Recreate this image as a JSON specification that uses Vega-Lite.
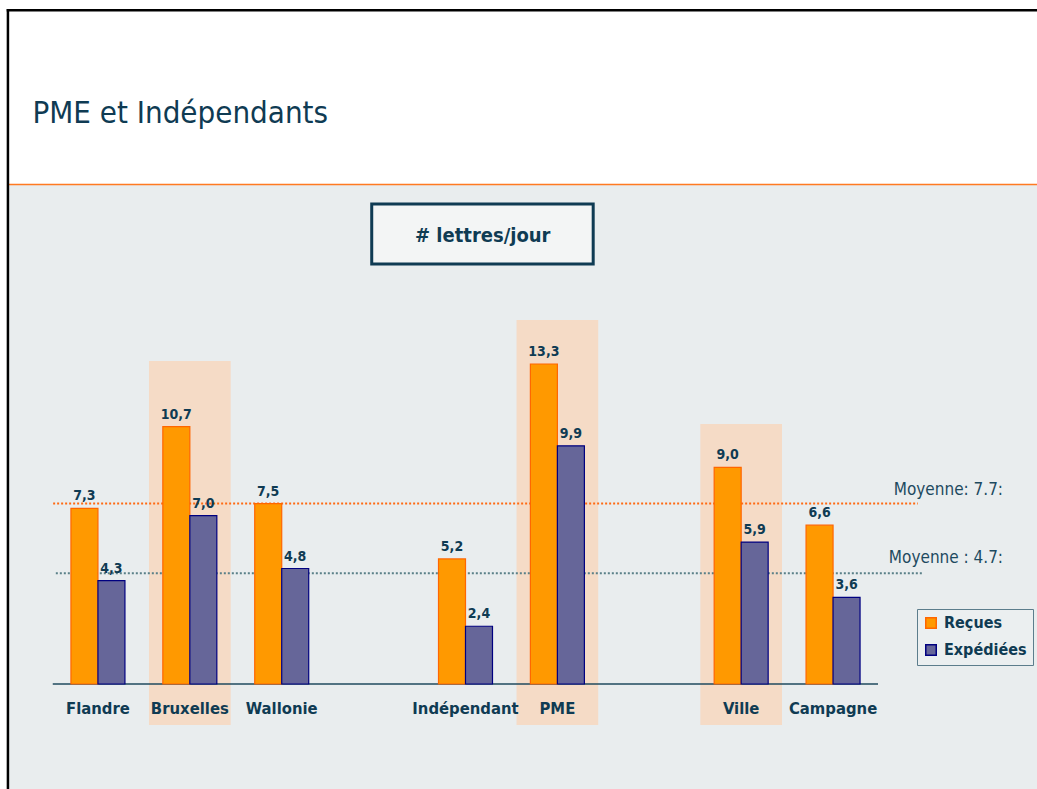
{
  "$schema": "https://vega.github.io/schema/vega-lite/v6.json",
  "width": 827,
  "height": 605,
  "autosize": {"type": "none"},
  "padding": {"left": 52, "top": 184, "right": 158, "bottom": 0},
  "background": "#FFFFFF",
  "config": {
    "view": {"stroke": null},
    "locale": {"number": {"decimal": ",", "thousands": " ", "grouping": [3], "currency": ["", " €"]}}
  },
  "datasets": {
    "lettres": [
      {"cat": "Flandre", "series": "Reçues", "value": 7.3},
      {"cat": "Flandre", "series": "Expédiées", "value": 4.3},
      {"cat": "Bruxelles", "series": "Reçues", "value": 10.7},
      {"cat": "Bruxelles", "series": "Expédiées", "value": 7.0},
      {"cat": "Wallonie", "series": "Reçues", "value": 7.5},
      {"cat": "Wallonie", "series": "Expédiées", "value": 4.8},
      {"cat": "Indépendant", "series": "Reçues", "value": 5.2},
      {"cat": "Indépendant", "series": "Expédiées", "value": 2.4},
      {"cat": "PME", "series": "Reçues", "value": 13.3},
      {"cat": "PME", "series": "Expédiées", "value": 9.9},
      {"cat": "Ville", "series": "Reçues", "value": 9.0},
      {"cat": "Ville", "series": "Expédiées", "value": 5.9},
      {"cat": "Campagne", "series": "Reçues", "value": 6.6},
      {"cat": "Campagne", "series": "Expédiées", "value": 3.6}
    ],
    "highlights": [
      {"cat": "Bruxelles", "top": 13.42, "bottom": -1.7},
      {"cat": "PME", "top": 15.13, "bottom": -1.7},
      {"cat": "Ville", "top": 10.81, "bottom": -1.7}
    ],
    "one": [{}]
  },
  "encoding": {
    "x": {"type": "nominal", "scale": {"domain": ["Flandre", "Bruxelles", "Wallonie", "_gap1", "Indépendant", "PME", "_gap2", "Ville", "Campagne"], "paddingInner": 0.4124, "paddingOuter": 0.2062, "align": 0.5}, "axis": null},
    "y": {"type": "quantitative", "scale": {"domain": [-4.364, 20.78], "nice": false, "zero": false}, "axis": null}
  },
  "layer": [
    {
      "data": {"name": "one"},
      "mark": {"type": "rect", "color": "#E9EDEE"},
      "encoding": {
        "x": {"datum": "Flandre", "bandPosition": -1.148},
        "x2": {"datum": "Campagne", "bandPosition": 4.3},
        "y": {"datum": 20.78},
        "y2": {"datum": -4.364}
      }
    },
    {
      "data": {"name": "one"},
      "mark": {"type": "rule", "color": "#FF7A21", "strokeWidth": 1.5},
      "encoding": {
        "x": {"datum": "Flandre", "bandPosition": -1.148},
        "x2": {"datum": "Campagne", "bandPosition": 4.3},
        "y": {"datum": 20.76}
      }
    },
    {
      "data": {"name": "one"},
      "mark": {"type": "rule", "color": "#000000", "strokeWidth": 2.5},
      "encoding": {
        "x": {"datum": "Flandre", "bandPosition": -1.19},
        "x2": {"datum": "Campagne", "bandPosition": 4.3},
        "y": {"datum": 28.0}
      }
    },
    {
      "data": {"name": "one"},
      "mark": {"type": "rule", "color": "#000000", "strokeWidth": 2.5},
      "encoding": {
        "x": {"datum": "Flandre", "bandPosition": -1.167},
        "y": {"datum": 28.05},
        "y2": {"datum": -4.364}
      }
    },
    {
      "data": {"name": "one"},
      "mark": {"type": "text", "text": "PME et Indépendants", "font": "DejaVu Sans Condensed", "fontSize": 31, "color": "#0F3B53", "align": "left", "baseline": "alphabetic"},
      "encoding": {
        "x": {"datum": "Flandre", "bandPosition": -0.713},
        "y": {"datum": 23.32}
      }
    },
    {
      "data": {"name": "highlights"},
      "mark": {"type": "bar", "color": "#F5DBC6", "width": {"band": 1.513}},
      "encoding": {
        "x": {"field": "cat"},
        "y": {"field": "top"},
        "y2": {"field": "bottom"}
      }
    },
    {
      "data": {"name": "one"},
      "mark": {"type": "rect", "fill": "#F3F5F5", "stroke": "#0F3B53", "strokeWidth": 3},
      "encoding": {
        "x": {"datum": "Wallonie", "bandPosition": 2.167},
        "x2": {"datum": "Indépendant", "bandPosition": 2.865},
        "y": {"datum": 19.95},
        "y2": {"datum": 17.46}
      }
    },
    {
      "data": {"name": "one"},
      "mark": {"type": "text", "text": "# lettres/jour", "font": "DejaVu Sans Condensed", "fontWeight": "bold", "fontSize": 20, "color": "#0F3B53", "align": "center", "baseline": "alphabetic"},
      "encoding": {
        "x": {"datum": "Indépendant", "bandPosition": 0.819},
        "y": {"datum": 18.37}
      }
    },
    {
      "data": {"name": "one"},
      "mark": {"type": "rule", "color": "#1F4A5E", "strokeWidth": 1.5},
      "encoding": {
        "x": {"datum": "Flandre", "bandPosition": -0.337},
        "x2": {"datum": "Campagne", "bandPosition": 1.333},
        "y": {"datum": 0}
      }
    },
    {
      "data": {"name": "one"},
      "mark": {"type": "rule", "color": "#FF6A13", "strokeWidth": 2, "strokeDash": [2, 2]},
      "encoding": {
        "x": {"datum": "Flandre", "bandPosition": -0.33},
        "x2": {"datum": "Campagne", "bandPosition": 2.07},
        "y": {"datum": 7.5}
      }
    },
    {
      "data": {"name": "one"},
      "mark": {"type": "rule", "color": "#5A8088", "strokeWidth": 2, "strokeDash": [2, 2]},
      "encoding": {
        "x": {"datum": "Flandre", "bandPosition": -0.28},
        "x2": {"datum": "Campagne", "bandPosition": 2.15},
        "y": {"datum": 4.6}
      }
    },
    {
      "data": {"name": "one"},
      "mark": {"type": "text", "text": "Moyenne: 7.7:", "font": "DejaVu Sans Condensed", "fontSize": 17, "color": "#1D4A5F", "align": "right", "baseline": "alphabetic", "dy": -9},
      "encoding": {
        "x": {"datum": "Campagne", "bandPosition": 3.648},
        "y": {"datum": 7.5}
      }
    },
    {
      "data": {"name": "one"},
      "mark": {"type": "text", "text": "Moyenne : 4.7:", "font": "DejaVu Sans Condensed", "fontSize": 17, "color": "#1D4A5F", "align": "right", "baseline": "alphabetic", "dy": -10},
      "encoding": {
        "x": {"datum": "Campagne", "bandPosition": 3.648},
        "y": {"datum": 4.6}
      }
    },
    {
      "data": {"name": "lettres"},
      "mark": {"type": "bar", "strokeWidth": 1.2},
      "encoding": {
        "x": {"field": "cat"},
        "xOffset": {"field": "series", "type": "nominal", "scale": {"domain": ["Reçues", "Expédiées"], "paddingInner": 0, "paddingOuter": 0}},
        "y": {"field": "value"},
        "y2": {"datum": 0},
        "fill": {"field": "series", "type": "nominal", "scale": {"domain": ["Reçues", "Expédiées"], "range": ["#FF9900", "#666699"]},
          "legend": {"title": null, "orient": "none", "legendX": 865, "legendY": 425, "symbolType": "square", "symbolSize": 110, "symbolStrokeWidth": 1.5, "labelFont": "DejaVu Sans Condensed", "labelFontWeight": "bold", "labelFontSize": 16, "labelColor": "#0F3B53", "labelOffset": 5, "rowPadding": 9, "padding": 6, "fillColor": "#EBEFF0", "strokeColor": "#5C7D8C", "cornerRadius": 0}},
        "stroke": {"field": "series", "type": "nominal", "scale": {"domain": ["Reçues", "Expédiées"], "range": ["#FF6600", "#000080"]}}
      }
    },
    {
      "data": {"name": "lettres"},
      "mark": {"type": "text", "font": "DejaVu Sans Condensed", "fontWeight": "bold", "fontSize": 14, "color": "#0F3B53", "align": "center", "baseline": "alphabetic", "dy": -8},
      "encoding": {
        "x": {"field": "cat"},
        "xOffset": {"field": "series", "type": "nominal"},
        "y": {"field": "value"},
        "text": {"field": "value", "type": "quantitative", "format": ".1f"}
      }
    },
    {
      "data": {"name": "lettres"},
      "transform": [{"filter": "datum.series === 'Reçues'"}],
      "mark": {"type": "text", "font": "DejaVu Sans Condensed", "fontWeight": "bold", "fontSize": 16.5, "color": "#0F3B53", "align": "center", "baseline": "alphabetic"},
      "encoding": {
        "x": {"field": "cat"},
        "y": {"datum": -1.247},
        "text": {"field": "cat"}
      }
    }
  ]
}
